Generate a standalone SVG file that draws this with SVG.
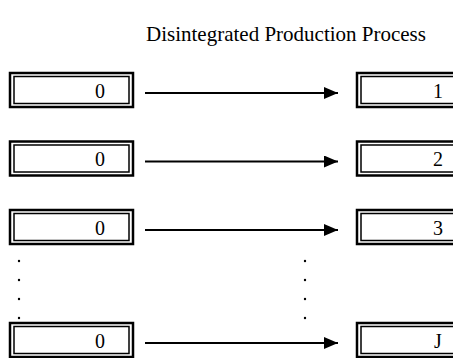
<svg xmlns="http://www.w3.org/2000/svg" width="453" height="358" viewBox="0 0 453 358">
<defs>
<style>
.o{fill:#fff;stroke:#000;stroke-width:2.5}
.i{fill:none;stroke:#000;stroke-width:1.5}
.t{font-family:"Liberation Serif","Times New Roman",serif;font-size:20px;fill:#000}
.ttl{font-family:"Liberation Serif","Times New Roman",serif;font-size:21px;fill:#000}
.c{stroke:#000;stroke-width:2;fill:none}
</style>
<marker id="ah" markerWidth="14" markerHeight="12" refX="14" refY="6" orient="auto" markerUnits="userSpaceOnUse">
<path d="M0,0 L14,6 L0,12 Z" fill="#000"/>
</marker>
</defs>
<text class="ttl" x="286" y="41" text-anchor="middle">Disintegrated Production Process</text>
<g id="L1"><rect class="o" x="10" y="73" width="123" height="34"/><rect class="i" x="14" y="76.5" width="115" height="27"/><text class="t" x="100" y="97.5" text-anchor="middle">0</text></g>
<g id="L2"><rect class="o" x="10" y="141.5" width="123" height="34"/><rect class="i" x="14" y="145" width="115" height="27"/><text class="t" x="100" y="166" text-anchor="middle">0</text></g>
<g id="L3"><rect class="o" x="10" y="210" width="123" height="34"/><rect class="i" x="14" y="213.5" width="115" height="27"/><text class="t" x="100" y="234.5" text-anchor="middle">0</text></g>
<g id="L4"><rect class="o" x="10" y="323" width="123" height="34"/><rect class="i" x="14" y="326.5" width="115" height="27"/><text class="t" x="100" y="347.5" text-anchor="middle">0</text></g>
<g id="R1"><rect class="o" x="357" y="73" width="110" height="34"/><rect class="i" x="361" y="76.5" width="110" height="27"/><text class="t" x="438" y="97.5" text-anchor="middle">1</text></g>
<g id="R2"><rect class="o" x="357" y="141.5" width="110" height="34"/><rect class="i" x="361" y="145" width="110" height="27"/><text class="t" x="438" y="166" text-anchor="middle">2</text></g>
<g id="R3"><rect class="o" x="357" y="210" width="110" height="34"/><rect class="i" x="361" y="213.5" width="110" height="27"/><text class="t" x="438" y="234.5" text-anchor="middle">3</text></g>
<g id="R4"><rect class="o" x="357" y="323" width="110" height="34"/><rect class="i" x="361" y="326.5" width="110" height="27"/><text class="t" x="438" y="347.5" text-anchor="middle">J</text></g>
<g id="connectors">
<line class="c" x1="145" y1="93" x2="338" y2="93" marker-end="url(#ah)"/>
<line class="c" x1="145" y1="161.5" x2="338" y2="161.5" marker-end="url(#ah)"/>
<line class="c" x1="145" y1="230" x2="338" y2="230" marker-end="url(#ah)"/>
<line class="c" x1="145" y1="343" x2="338" y2="343" marker-end="url(#ah)"/>
</g>
<g id="dots" fill="#000">
<circle cx="19" cy="261" r="1.2"/><circle cx="19" cy="280" r="1.2"/><circle cx="19" cy="299" r="1.2"/><circle cx="19" cy="318" r="1.2"/>
<circle cx="305" cy="261" r="1.2"/><circle cx="305" cy="280" r="1.2"/><circle cx="305" cy="299" r="1.2"/><circle cx="305" cy="318" r="1.2"/>
</g>
</svg>
